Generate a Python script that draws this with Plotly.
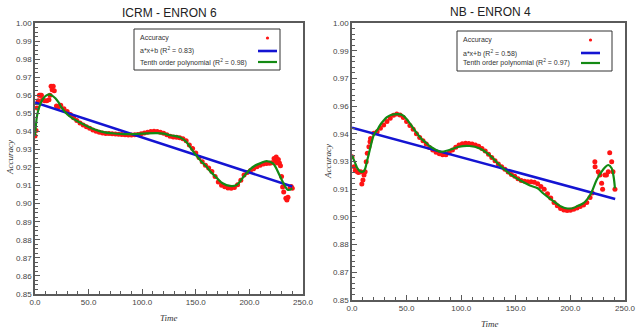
import plotly.graph_objects as go

# ---------------- data: left panel (ICRM - ENRON 6) ----------------
left_acc_x = [0, 1, 2, 3, 4, 5, 6, 7, 9, 11, 13, 14, 15, 16, 17, 18, 20, 22, 24,
              27, 30, 33, 36, 39, 42, 45, 48, 51, 54, 57, 60, 63, 66, 69, 72, 75, 78,
              81, 84, 87, 90, 93, 96, 99, 102, 105, 108, 111, 114, 117, 120, 123, 126,
              129, 132, 135, 138, 141, 144, 147, 150, 153, 156, 159, 162, 165, 168,
              171, 174, 177, 180, 183, 186, 189, 192, 195, 198, 201, 204, 207, 210,
              213, 216, 219, 221, 223, 224, 225, 226, 227, 228, 229, 230, 231, 232,
              234, 235, 236, 238, 239, 240]
left_acc_y = [0.9375, 0.9405, 0.953, 0.957, 0.960, 0.960, 0.960, 0.9575, 0.957, 0.957,
              0.9575, 0.960, 0.965, 0.963, 0.965, 0.9625, 0.954, 0.9535, 0.9545,
              0.9525, 0.951, 0.9493, 0.9475, 0.946, 0.9447, 0.9435, 0.9426, 0.9417,
              0.9408, 0.9401, 0.9395, 0.9391, 0.9389, 0.9388, 0.9387, 0.9385, 0.9384,
              0.9383, 0.9381, 0.938, 0.938, 0.9381, 0.9383, 0.9387, 0.9391, 0.9395,
              0.9399, 0.9401, 0.9399, 0.9395, 0.939, 0.9381, 0.9373, 0.9369, 0.9367,
              0.9365, 0.936, 0.9348, 0.9325, 0.9305, 0.928, 0.9255, 0.9232, 0.9212,
              0.9198, 0.9178, 0.915, 0.912, 0.9102, 0.9094, 0.9087, 0.9085, 0.909,
              0.9105, 0.913, 0.9158, 0.9172, 0.9184, 0.9193, 0.9204, 0.9213, 0.9219,
              0.9223, 0.9224, 0.9226, 0.925, 0.9235, 0.9258, 0.9225, 0.9245, 0.9225,
              0.921, 0.915, 0.9092, 0.9065, 0.903, 0.902, 0.9035, 0.909, 0.9095, 0.9085]
left_lin_x = [0, 240]
left_lin_y = [0.956, 0.9095]
left_poly_x = [0, 2, 4, 6, 8, 10, 13, 16, 19, 22, 25, 30, 35, 41, 50, 57, 65, 72, 80,
               90, 100, 113, 120, 125, 130, 135, 141, 145, 150, 155, 160, 163, 170,
               175, 182, 188, 194, 200, 205, 210, 216, 222, 228, 232, 236, 240]
left_poly_y = [0.9375, 0.949, 0.9535, 0.9565, 0.9585, 0.9597, 0.9605, 0.9598, 0.9583,
               0.956, 0.953, 0.9495, 0.9472, 0.9452, 0.9425, 0.9408, 0.9395, 0.939,
               0.9386, 0.9385, 0.9388, 0.939, 0.9388, 0.938, 0.9375, 0.9367, 0.9343,
               0.931, 0.927, 0.9235, 0.9205, 0.9182, 0.914, 0.9113, 0.9098, 0.9103,
               0.9145, 0.9186, 0.921, 0.9223, 0.9236, 0.9223, 0.9159, 0.911, 0.9076,
               0.9085]

# ---------------- data: right panel (NB - ENRON 4) ----------------
right_acc_x = [0, 2, 3, 5, 6, 8, 9, 10, 11, 12, 13, 14, 15.5, 16.5, 17, 20, 23, 26, 29,
               32, 35, 38, 41, 44, 47, 50, 53, 56, 59, 62, 65, 68, 71, 74, 77, 80, 83,
               86, 89, 92, 95, 98, 101, 104, 107, 110, 113, 116, 119, 122, 125, 128,
               131, 134, 137, 140, 143, 146, 149, 152, 155, 158, 161, 164, 167, 170,
               173, 176, 179, 182, 185, 188, 191, 194, 197, 200, 203, 206, 209, 212,
               215, 218, 220, 222.4, 222.6, 225.5, 227, 228.6, 229.5, 231.6, 233,
               234.7, 236, 237.8, 239, 240.8]
right_acc_y = [0.9276, 0.9222, 0.920, 0.9195, 0.919, 0.9195, 0.9128, 0.915, 0.9177,
               0.9195, 0.9249, 0.9294, 0.933, 0.9357, 0.9375, 0.9403, 0.9411, 0.943,
               0.9448, 0.9466, 0.9484, 0.950, 0.9507, 0.9502, 0.9488, 0.9467, 0.9445,
               0.9424, 0.940, 0.938, 0.9362, 0.9345, 0.9326, 0.9312, 0.930, 0.9292,
               0.9287, 0.9286, 0.9297, 0.9312, 0.9327, 0.9339, 0.9346, 0.9349, 0.9348,
               0.9345, 0.934, 0.9332, 0.9321, 0.9307, 0.9289, 0.9272, 0.9254, 0.9236,
               0.9222, 0.9208, 0.9193, 0.918, 0.917, 0.9156, 0.9147, 0.9143, 0.9141,
               0.914, 0.9137, 0.913, 0.9115, 0.910, 0.9075, 0.9052, 0.9028, 0.901,
               0.8995, 0.8987, 0.8984, 0.8986, 0.8992, 0.8998, 0.9006, 0.9015, 0.9028,
               0.9055, 0.908, 0.9249, 0.9222, 0.9195, 0.9177, 0.9132, 0.910, 0.9177,
               0.9177, 0.9195, 0.9298, 0.9249, 0.9195, 0.910]
right_lin_x = [0, 241]
right_lin_y = [0.9433, 0.9047]
right_poly_x = [0, 3, 5, 8, 11, 14, 17, 20, 23, 26, 29.4, 32, 35.6, 41.6, 46, 50, 54,
                58, 63, 68, 72, 77, 81, 89, 98, 107.5, 117, 126, 135, 144, 153.5, 163,
                170, 175, 181, 187, 192, 196, 202, 207, 212, 216, 219, 224, 228.6, 232,
                234.7, 237.8, 239.5, 240.8]
right_poly_y = [0.9285, 0.924, 0.9213, 0.9195, 0.9199, 0.9258, 0.933, 0.9394, 0.942,
                0.945, 0.9475, 0.949, 0.9502, 0.9507, 0.9502, 0.948, 0.9448, 0.9415,
                0.9376, 0.935, 0.933, 0.9313, 0.9303, 0.9312, 0.933, 0.9334, 0.9321,
                0.9285, 0.9231, 0.9186, 0.915, 0.912, 0.9105, 0.9078, 0.905, 0.9024,
                0.9005, 0.8997, 0.8997, 0.901, 0.9024, 0.905, 0.9078, 0.915, 0.9195,
                0.922, 0.9231, 0.9213, 0.917, 0.9105]

# axis ticks
x_ticks = [0, 50, 100, 150, 200, 250]
left_y_ticks = [0.85, 0.86, 0.87, 0.88, 0.89, 0.90, 0.91, 0.92, 0.93, 0.94, 0.95,
                0.96, 0.97, 0.98, 0.99, 1.00]
right_y_ticks = [0.85, 0.865, 0.88, 0.895, 0.91, 0.925, 0.94, 0.955, 0.97, 0.985, 1.00]
right_y_labels = ["0.85", "0.87", "0.88", "0.90", "0.91", "0.93", "0.94", "0.96",
                  "0.97", "0.99", "1.00"]

titles = ["ICRM - ENRON 6", "NB - ENRON 4"]
leg_acc = "Accuracy"
leg_lin = ["a*x+b (R<sup>2</sup> = 0.83)", "a*x+b (R<sup>2</sup> = 0.58)"]
leg_poly = ["Tenth order polynomial (R<sup>2</sup> = 0.98)",
            "Tenth order polynomial (R<sup>2</sup> = 0.97)"]

RED = "#ff1414"
BLUE = "#1414d2"
GREEN = "#138a13"
AXC = "#5a5a5a"

W, H = 640, 331


def fx(px):
    return px / W


def fy(py):
    return 1 - py / H


fig = go.Figure()

panels = [
    dict(xa="x", ya="y",
         acc=(left_acc_x, left_acc_y), lin=(left_lin_x, left_lin_y),
         poly=(left_poly_x, left_poly_y)),
    dict(xa="x2", ya="y2",
         acc=(right_acc_x, right_acc_y), lin=(right_lin_x, right_lin_y),
         poly=(right_poly_x, right_poly_y)),
]

for p in panels:
    fig.add_trace(go.Scatter(x=p["acc"][0], y=p["acc"][1], mode="markers",
                             marker=dict(color=RED, size=5, line=dict(width=0)),
                             xaxis=p["xa"], yaxis=p["ya"], showlegend=False))
    fig.add_trace(go.Scatter(x=p["lin"][0], y=p["lin"][1], mode="lines",
                             line=dict(color=BLUE, width=2.6),
                             xaxis=p["xa"], yaxis=p["ya"], showlegend=False))
    fig.add_trace(go.Scatter(x=p["poly"][0], y=p["poly"][1], mode="lines",
                             line=dict(color=GREEN, width=2.2, shape="spline"),
                             xaxis=p["xa"], yaxis=p["ya"], showlegend=False))

tickfont = dict(family="Liberation Sans, Arial", size=8, color="#444")
common_x = dict(range=[0, 250], tickvals=x_ticks, tickformat=".1f",
                ticks="inside", ticklen=5, tickcolor=AXC, tickwidth=1,
                minor=dict(ticks="inside", ticklen=3, dtick=10, tick0=0,
                           tickcolor=AXC, showgrid=False),
                showline=True, linecolor=AXC, linewidth=1.5, mirror=True,
                showgrid=False, zeroline=False, tickfont=tickfont,
                fixedrange=True, automargin=False)

layout = dict(width=W, height=H, margin=dict(l=0, r=0, t=0, b=0),
              paper_bgcolor="white", plot_bgcolor="white", showlegend=False)

layout["xaxis"] = dict(common_x, domain=[fx(35), fx(303)], anchor="y")
layout["xaxis2"] = dict(common_x, domain=[fx(352), fx(625)], anchor="y2")
layout["yaxis"] = dict(range=[0.85, 1.0], tickvals=left_y_ticks, tickformat=".2f",
                       domain=[fy(294), fy(23)], anchor="x",
                       ticks="inside", ticklen=5, tickcolor=AXC,
                       minor=dict(ticks="inside", ticklen=3, dtick=0.0025, tick0=0.85,
                                  tickcolor=AXC, showgrid=False),
                       showline=True, linecolor=AXC, linewidth=1.5, mirror=True,
                       showgrid=False, zeroline=False, tickfont=tickfont,
                       fixedrange=True, automargin=False)
layout["yaxis2"] = dict(range=[0.85, 1.0], tickvals=right_y_ticks, ticktext=right_y_labels,
                        domain=[fy(300), fy(23)], anchor="x2",
                        ticks="inside", ticklen=5, tickcolor=AXC,
                        minor=dict(ticks="inside", ticklen=3, dtick=0.003, tick0=0.85,
                                   tickcolor=AXC, showgrid=False),
                        showline=True, linecolor=AXC, linewidth=1.5, mirror=True,
                        showgrid=False, zeroline=False, tickfont=tickfont,
                        fixedrange=True, automargin=False)
fig.update_layout(**layout)

ann = []
shapes = []
title_font = dict(family="Liberation Sans, Arial", size=12, color="#222")
axis_title_font = dict(family="Liberation Serif, Times New Roman", size=9, color="#333")
leg_font = dict(family="Liberation Sans, Arial", size=7, color="#333")

# titles and axis titles
title_pos = [(169, 13), (490, 12)]
time_pos = [(169, 318), (490, 324)]
acc_pos = [(10, 158), (328, 162)]
for i in range(2):
    ann.append(dict(text=titles[i], x=fx(title_pos[i][0]), y=fy(title_pos[i][1]),
                    xref="paper", yref="paper", showarrow=False, font=title_font,
                    xanchor="center", yanchor="middle"))
    ann.append(dict(text="<i>Time</i>", x=fx(time_pos[i][0]), y=fy(time_pos[i][1]),
                    xref="paper", yref="paper", showarrow=False, font=axis_title_font,
                    xanchor="center", yanchor="middle"))
    ann.append(dict(text="<i>Accuracy</i>", x=fx(acc_pos[i][0]), y=fy(acc_pos[i][1]),
                    xref="paper", yref="paper", showarrow=False, font=axis_title_font,
                    textangle=-90, xanchor="center", yanchor="middle"))

# custom legends (symbol on the right, as in the reference)
legends = [dict(box=(134, 29, 280, 70), tx=138, rows=(38, 51, 62), sym=(258, 277)),
           dict(box=(457, 31, 612, 71), tx=461, rows=(40, 53, 63), sym=(581, 600))]
for i, L in enumerate(legends):
    x0, y0, x1, y1 = L["box"]
    shapes.append(dict(type="rect", xref="paper", yref="paper",
                       x0=fx(x0), x1=fx(x1), y0=fy(y1), y1=fy(y0),
                       line=dict(color="#333", width=1), fillcolor="white"))
    texts = [leg_acc, leg_lin[i], leg_poly[i]]
    for t, ry in zip(texts, L["rows"]):
        ann.append(dict(text=t, x=fx(L["tx"]), y=fy(ry), xref="paper", yref="paper",
                        showarrow=False, font=leg_font, xanchor="left", yanchor="middle"))
    s0, s1 = L["sym"]
    cx = (s0 + s1) / 2
    shapes.append(dict(type="circle", xref="paper", yref="paper",
                       x0=fx(cx - 1.6), x1=fx(cx + 1.6),
                       y0=fy(L["rows"][0] + 1.6), y1=fy(L["rows"][0] - 1.6),
                       fillcolor=RED, line=dict(width=0)))
    shapes.append(dict(type="line", xref="paper", yref="paper",
                       x0=fx(s0), x1=fx(s1), y0=fy(L["rows"][1]), y1=fy(L["rows"][1]),
                       line=dict(color=BLUE, width=2.6)))
    shapes.append(dict(type="line", xref="paper", yref="paper",
                       x0=fx(s0), x1=fx(s1), y0=fy(L["rows"][2]), y1=fy(L["rows"][2]),
                       line=dict(color=GREEN, width=2.2)))

fig.update_layout(annotations=ann, shapes=shapes)
fig.write_html("out.html", config={"displayModeBar": False},
               post_script="document.body.style.margin='0px';document.body.style.overflow='hidden';")
